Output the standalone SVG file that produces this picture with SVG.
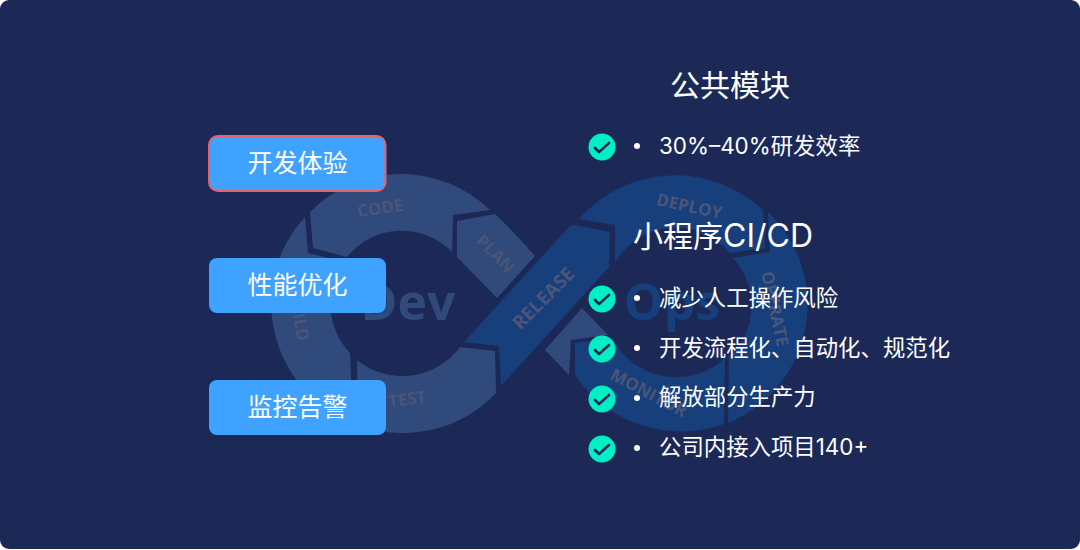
<svg xmlns="http://www.w3.org/2000/svg" width="1080" height="550" viewBox="0 0 1080 550">
<style>
.l{fill:#2f4a7b}
.r{fill:#173f7c}
.lb{font-family:"Open Sans","Noto Sans",sans-serif;font-weight:700;font-size:17px;fill:#4a5578;text-anchor:middle}
.big{font-family:"Open Sans","Noto Sans",sans-serif;font-weight:700;font-size:50px;text-anchor:middle}
.btn{fill:#3fa2ff}
.bt{font-family:"Noto Sans CJK SC","Noto Sans",sans-serif;font-size:25px;fill:#fff;text-anchor:middle}
.h{font-family:"Inter","Noto Sans CJK SC",sans-serif;font-size:30px;fill:#fff}
.t{font-family:"Inter","Noto Sans CJK SC",sans-serif;font-size:22.4px;fill:#fff}
.c{fill:#00efc5}
.k{fill:none;stroke:#1c2957;stroke-width:2.6;stroke-linecap:round;stroke-linejoin:round}
.d{fill:#fff}
</style>
<rect width="1080" height="550" fill="#fff"/>
<rect x="0" y="0" width="1080" height="549" rx="9" fill="#1c2957"/>
<g id="loop-dev">
<path class="l" d="M310 212A128 128 0 0 1 490 210L453 215L452 252A70 70 0 0 0 347 257L313 248Z"/>
<path class="l" d="M457 221L495 214Q515 233 535 256L497 298L457 257Z"/>
<path class="l" d="M305 217A128 128 0 0 0 353 423L350 353A70 70 0 0 1 345 262L308 253Z"/>
<path class="l" d="M357 360A72 72 0 0 0 460 347L495 351L496 393A128 128 0 0 1 358 425Z"/>
<text class="lb" transform="translate(381 214) rotate(-8)">CODE</text>
<text class="lb" transform="translate(491 258) rotate(45)">PLAN</text>
<text class="lb" transform="translate(295 328) rotate(80)">ILD</text>
<text class="lb" transform="translate(408 405) rotate(-8)">TEST</text>
<text class="big" x="408" y="320" fill="#2f4a7b">Dev</text>
</g>
<g id="loop-ops">
<path class="r" d="M464 342L499 346L501 386L609 267L610 232L575 225Q571 225 568 228Z"/>
<path class="r" d="M579 219A128 128 0 0 1 763 210L765 248L730 253A70 70 0 0 0 615 263L615 225Z"/>
<path class="r" d="M768 212A128 128 0 0 1 728 423L729 357A70 70 0 0 0 733 258L770 252Z"/>
<path class="r" d="M575 343L612 338A72 72 0 0 0 725 358L724 424A128 128 0 0 1 575 375Z"/>
<path class="l" d="M582 308L608 335L571 340L569 375L545 350Z"/>
<text class="lb" transform="translate(688 212) rotate(12)">DEPLOY</text>
<text class="lb" transform="translate(769 310) rotate(78)">OPERATE</text>
<text class="lb" transform="translate(646 398) rotate(28)">MONITOR</text>
<text class="lb" style="font-size:19px" transform="translate(548 303) rotate(-45)">RELEASE</text>
<text class="big" x="672" y="320" fill="#173f7c">Ops</text>
</g>
<g id="btn-dev">
<rect x="209" y="136" width="176.500" height="55" rx="9" class="btn" stroke="#ec5f69" stroke-width="2"/>
<text class="bt" x="297.500" y="172">开发体验</text>
</g>
<g id="btn-perf">
<rect x="209" y="258" width="177" height="55" rx="8" class="btn"/>
<text class="bt" x="297.500" y="294">性能优化</text>
</g>
<g id="btn-mon">
<rect x="209" y="380" width="177" height="55" rx="8" class="btn"/>
<text class="bt" x="297.500" y="416">监控告警</text>
</g>
<g id="public-module">
<text class="h" x="670" y="96">公共模块</text>
<g id="item-1"><circle class="c" cx="602" cy="147" r="13.500"/><path class="k" d="M595 148L599 152L609 143"/><circle class="d" cx="637" cy="146" r="3"/><text class="t" x="659" y="154">30%–40%研发效率</text></g>
</g>
<g id="cicd">
<text class="h" x="633" y="247">小程序<tspan style="font-size:32px">CI/CD</tspan></text>
<g id="item-2"><circle class="c" cx="602" cy="299" r="13.500"/><path class="k" d="M595 300L599 304L609 295"/><circle class="d" cx="637" cy="298" r="3"/><text class="t" x="659" y="306">减少人工操作风险</text></g>
<g id="item-3"><circle class="c" cx="602" cy="349" r="13.500"/><path class="k" d="M595 350L599 354L609 345"/><circle class="d" cx="637" cy="348" r="3"/><text class="t" x="659" y="356">开发流程化、自动化、规范化</text></g>
<g id="item-4"><circle class="c" cx="602" cy="399" r="13.500"/><path class="k" d="M595 400L599 404L609 395"/><circle class="d" cx="637" cy="398" r="3"/><text class="t" x="659" y="405">解放部分生产力</text></g>
<g id="item-5"><circle class="c" cx="602" cy="449" r="13.500"/><path class="k" d="M595 450L599 454L609 445"/><circle class="d" cx="637" cy="448" r="3"/><text class="t" x="659" y="455">公司内接入项目140+</text></g>
</g>
</svg>
